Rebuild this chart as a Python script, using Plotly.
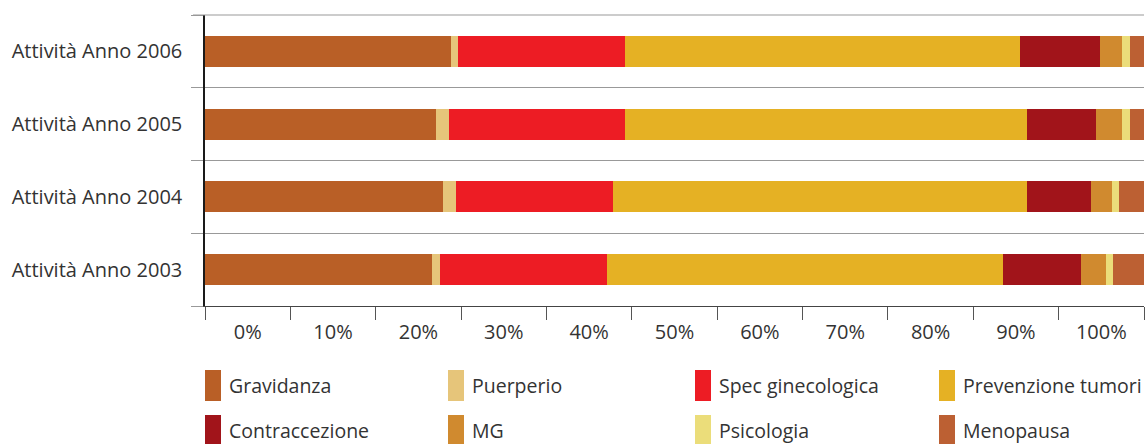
import plotly.graph_objects as go

categories = ["Attività Anno 2003", "Attività Anno 2004", "Attività Anno 2005", "Attività Anno 2006"]
series_names = ["Gravidanza", "Puerperio", "Spec ginecologica", "Prevenzione tumori",
                "Contraccezione", "MG", "Psicologia", "Menopausa"]
colors = ["#B95F26", "#E6C57A", "#ED1C24", "#E5B124",
          "#A1141A", "#D08A2F", "#EBDD7A", "#BC6033"]
# values in percent, order: 2003, 2004, 2005, 2006
gravidanza = [24.2, 25.3, 24.6, 26.2]
puerperio = [0.8, 1.4, 1.4, 0.7]
spec_ginecologica = [17.8, 16.8, 18.7, 17.8]
prevenzione_tumori = [42.2, 44.0, 42.8, 42.1]
contraccezione = [8.3, 6.9, 7.4, 8.5]
mg = [2.6, 2.2, 2.8, 2.4]
psicologia = [0.8, 0.7, 0.8, 0.8]
menopausa = [3.3, 2.7, 1.5, 1.5]
series_values = [gravidanza, puerperio, spec_ginecologica, prevenzione_tumori,
                 contraccezione, mg, psicologia, menopausa]
tick_labels = ["0%", "10%", "20%", "30%", "40%", "50%", "60%", "70%", "80%", "90%", "100%"]

FONT = "Open Sans"
TXT = "#333333"

fig = go.Figure()
for name, vals, col in zip(series_names, series_values, colors):
    fig.add_trace(go.Bar(y=categories, x=vals, name=name, orientation="h",
                         marker=dict(color=col, line=dict(width=0)), showlegend=False))

n = len(tick_labels)
step = 100.0 / n
label_pos = [(k + 0.5) * step for k in range(n)]
bound_pos = [k * step for k in range(n + 1)]

fig.update_layout(
    width=1146, height=444,
    margin=dict(l=205, r=2, t=15, b=138),
    barmode="stack", bargap=0.574,
    plot_bgcolor="white", paper_bgcolor="white",
    font=dict(family=FONT, size=20, color=TXT),
    xaxis=dict(range=[0, 100], tickmode="array", tickvals=label_pos, ticktext=tick_labels,
               ticks="", showgrid=False, zeroline=False, showline=True, linecolor="#444444",
               linewidth=1, tickfont=dict(size=20, color=TXT), ticklabelstandoff=8,
               minor=dict(tickmode="array", tickvals=bound_pos, ticks="outside", ticklen=13,
                          tickcolor="#555555", tickwidth=1, showgrid=False)),
    yaxis=dict(type="category", categoryarray=categories, range=[-0.5, 3.5],
               tickson="boundaries", ticks="outside", ticklen=12, tickcolor="#999999",
               showgrid=True, gridcolor="#999999", gridwidth=1, showline=True,
               linecolor="#1a1a1a", linewidth=1.5, zeroline=False,
               tickfont=dict(size=20, color=TXT), ticklabelstandoff=17),
)

plot_w = 1146 - 205 - 2
plot_h = 444 - 15 - 138

# top boundary line (grid at top of category band)
fig.add_shape(type="line", xref="paper", yref="paper", x0=-12 / plot_w, x1=1, y0=1, y1=1,
              line=dict(color="#999999", width=1))

# manual legend (vertical swatches as in the reference)
col_px = [0, 243, 490, 734]
row_px = [64, 109]  # top of swatch, px below plot bottom
for i, (name, col) in enumerate(zip(series_names, colors)):
    cx = col_px[i % 4]
    ry = row_px[i // 4]
    x0 = cx / plot_w
    x1 = (cx + 16) / plot_w
    y1 = -ry / plot_h
    y0 = -(ry + 31) / plot_h
    fig.add_shape(type="rect", xref="paper", yref="paper", x0=x0, x1=x1, y0=y0, y1=y1,
                  fillcolor=col, line=dict(width=0))
    fig.add_annotation(xref="paper", yref="paper", x=(cx + 22) / plot_w, y=(y0 + y1) / 2,
                       text=name, showarrow=False, xanchor="left", yanchor="middle",
                       font=dict(family=FONT, size=19.5, color=TXT))

fig.write_html("out.html", config={"displayModeBar": False},
               post_script="document.body.style.margin='0';document.body.style.overflow='hidden';")
